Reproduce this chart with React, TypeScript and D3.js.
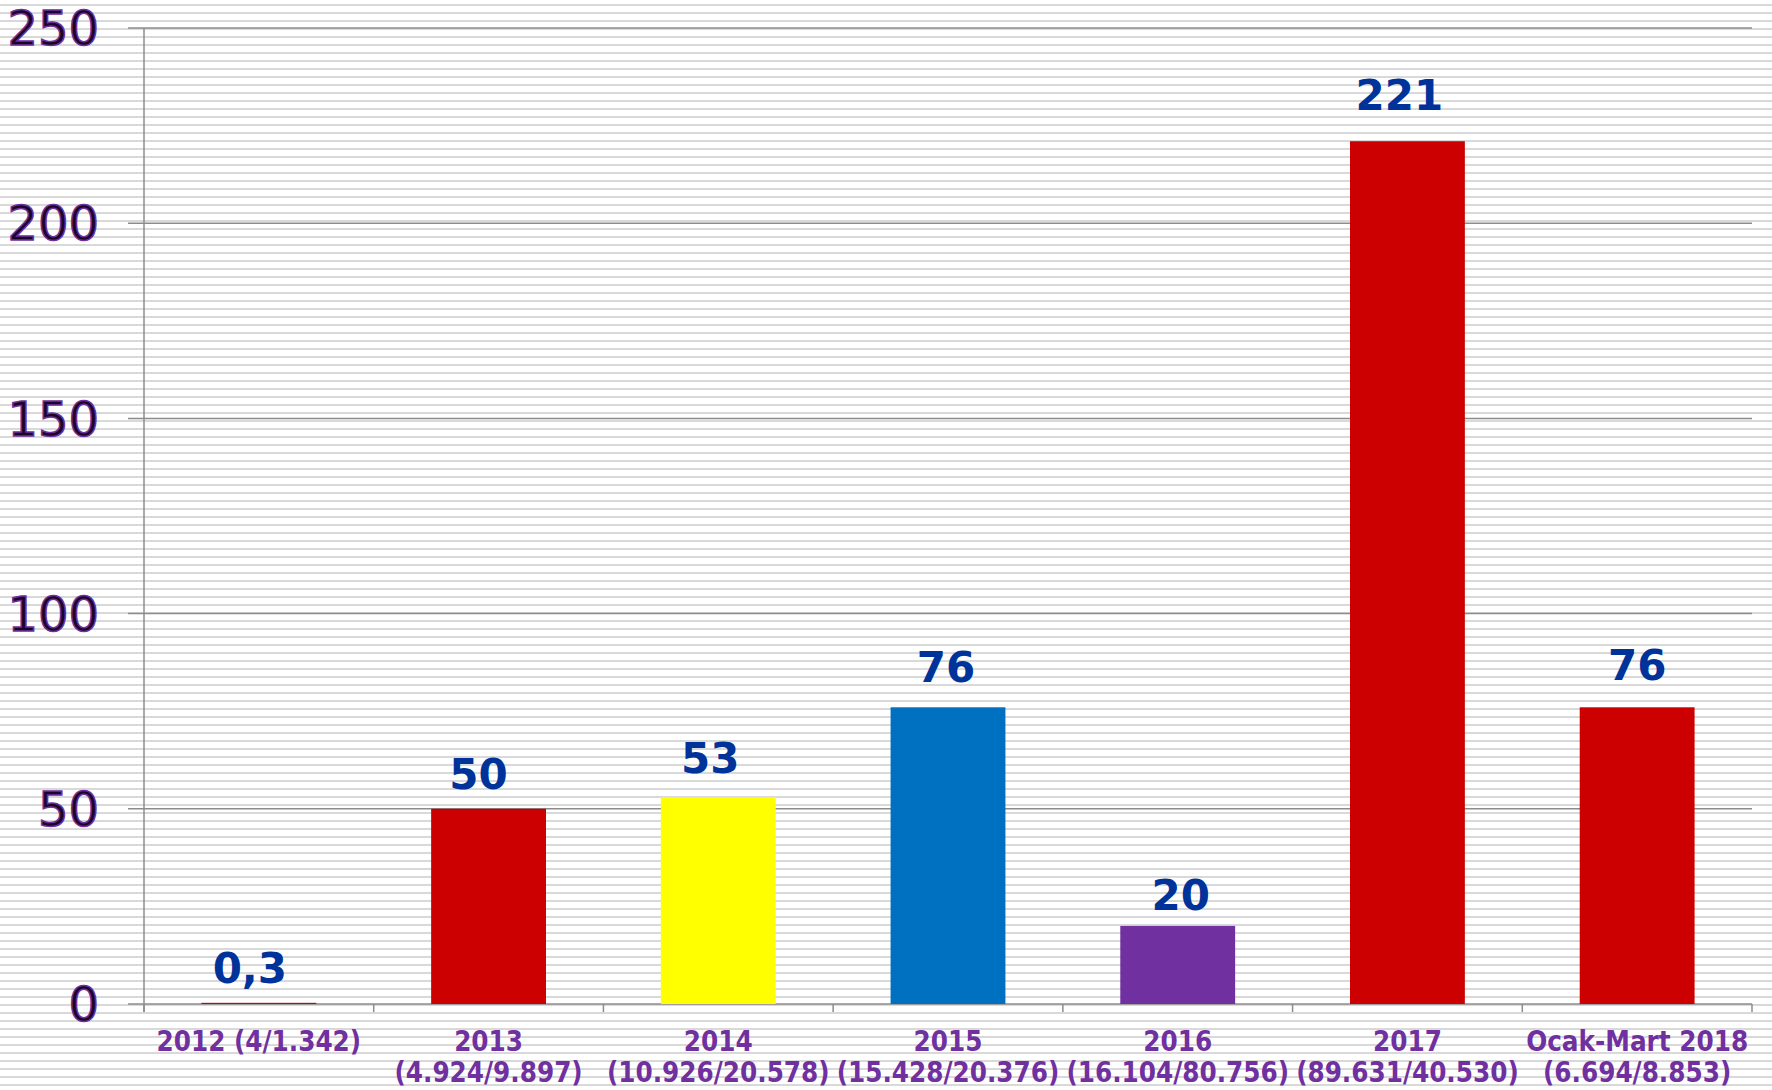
import React from "react";
import * as d3 from "d3";

const categories = ["2012", "2013", "2014", "2015", "2016", "2017", "Ocak-Mart 2018"];
const subLabels = ["(4/1.342)", "(4.924/9.897)", "(10.926/20.578)", "(15.428/20.376)", "(16.104/80.756)", "(89.631/40.530)", "(6.694/8.853)"];
const values = [0.3, 50, 53, 76, 20, 221, 76];
const barColors = ["#cc0000", "#cc0000", "#ffff00", "#0070c0", "#7030a0", "#cc0000", "#cc0000"];
const yTicks = [0, 50, 100, 150, 200, 250];

// layout nudges for the value labels (manually placed in the original)
const labelDx = [-9, -10, -8, -2, 3, -8, 0];
const labelGap = [20, 20, 24, 25, 16, 31, 27];

const W = 1772;
const H = 1090;
const left = 144;
const right = 1752;
const top = 28;
const bottom = 1004;

export default function App() {
  const x = d3.scaleBand<string>().domain(categories).range([left, right]).paddingInner(0.5).paddingOuter(0.25);
  const y = d3.scaleLinear().domain([0, 250]).range([bottom, top]);
  const step = x.step();
  const bw = x.bandwidth();
  const fmt = (v: number) => String(v).replace(".", ",");
  const tickXs = d3.range(categories.length + 1).map((i) => left + i * step);

  return (
    <svg width={W} height={H} viewBox={`0 0 ${W} ${H}`} style={{ position: "absolute", left: 0, top: 0, display: "block" }}>
      <defs>
        <pattern id="stripes" patternUnits="userSpaceOnUse" width={8} height={8}>
          <rect x={0} y={0} width={8} height={8} fill="#ffffff" />
          <rect x={0} y={4} width={8} height={2} fill="#d9d9d9" />
        </pattern>
      </defs>
      <rect x={0} y={0} width={W} height={H} fill="url(#stripes)" />

      {/* gridlines */}
      {yTicks.map((t) => (
        <line key={"g" + t} x1={left - 16} x2={right} y1={y(t)} y2={y(t)} stroke="#8c8c8c" strokeWidth={1.5} />
      ))}
      {/* y axis */}
      <line x1={left} x2={left} y1={top} y2={bottom + 8} stroke="#8c8c8c" strokeWidth={1.5} />
      {/* x ticks */}
      {tickXs.map((tx, i) => (
        <line key={"t" + i} x1={tx} x2={tx} y1={bottom} y2={bottom + 8} stroke="#8c8c8c" strokeWidth={1.5} />
      ))}

      {/* bars */}
      {categories.map((c, i) => (
        <rect key={"b" + c} x={x(c)} y={y(values[i])} width={bw} height={Math.max(y(0) - y(values[i]), 1)} fill={barColors[i]} />
      ))}

      {/* value labels */}
      {categories.map((c, i) => (
        <text
          key={"v" + c}
          x={(x(c) as number) + bw / 2 + labelDx[i]}
          y={y(values[i]) - labelGap[i]}
          textAnchor="middle"
          fontFamily="'DejaVu Sans', sans-serif"
          fontWeight="bold"
          fontSize={42}
          fill="#003399"
        >
          {fmt(values[i])}
        </text>
      ))}

      {/* y labels */}
      {yTicks.map((t) => (
        <text
          key={"y" + t}
          x={99}
          y={y(t)}
          dy="0.36em"
          textAnchor="end"
          fontFamily="'DejaVu Sans', sans-serif"
          fontSize={48}
          fill="#1a0526"
          stroke="#7030a0"
          strokeWidth={1.5}
        >
          {t}
        </text>
      ))}

      {/* x labels */}
      {categories.map((c, i) => {
        const cx = (x(c) as number) + bw / 2;
        const single = i === 0;
        return (
          <text
            key={"x" + c}
            x={cx}
            y={1051}
            textAnchor="middle"
            fontFamily="'DejaVu Sans Condensed', 'DejaVu Sans', sans-serif"
            fontStretch="condensed"
            fontWeight="bold"
            fontSize={27.5}
            fill="#7030a0"
          >
            {single ? (
              <tspan>{c + " " + subLabels[i]}</tspan>
            ) : (
              <>
                <tspan x={cx}>{c}</tspan>
                <tspan x={cx} y={1082}>{subLabels[i]}</tspan>
              </>
            )}
          </text>
        );
      })}
    </svg>
  );
}
